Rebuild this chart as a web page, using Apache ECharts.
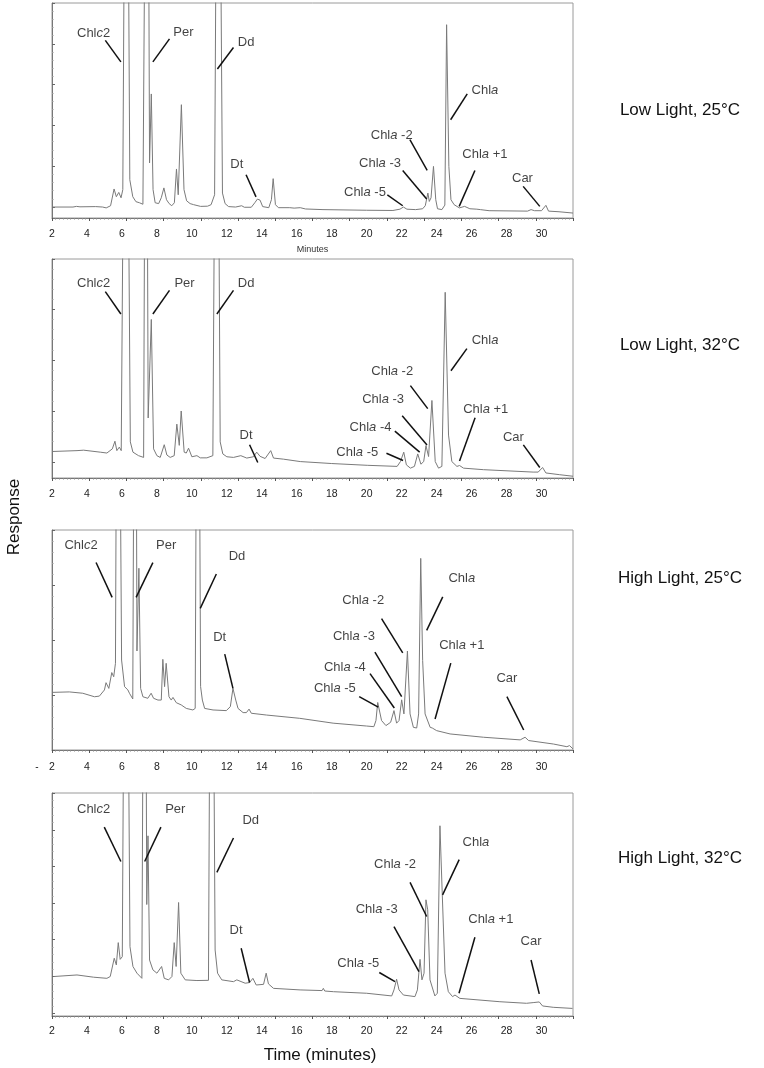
<!DOCTYPE html>
<html>
<head>
<meta charset="utf-8">
<title>Pigment chromatograms</title>
<script src="https://cdn.jsdelivr.net/npm/echarts@6/dist/echarts.min.js"></script>
<style>
  html, body { margin: 0; padding: 0; background: #fff; }
  #chart { width: 764px; height: 1068px; }
</style>
</head>
<body>
<div id="chart"></div>
<script>
// panel titles (right side)
const panelTitles = ['Low Light, 25°C', 'Low Light, 32°C', 'High Light, 25°C', 'High Light, 32°C']

// chromatograms: [time (min), response (% of panel height)], off-scale peaks go above 100
const trace1 = [[2.0,5.1],[3.2,5.1],[3.4,5.4],[3.6,5.2],[4.5,5.3],[4.9,5.1],[5.1,4.7],[5.35,5.7],[5.55,13.5],[5.68,9.9],[5.82,11.9],[5.95,9.4],[6.05,13.2],[6.25,300],[6.45,17.8],[6.62,9.9],[6.8,7.6],[7.0,7.1],[7.2,6.4],[7.28,7.1],[7.45,300],[7.58,25.6],[7.68,57.7],[7.78,13.2],[7.9,7.1],[8.1,6.7],[8.25,9.4],[8.4,14.0],[8.55,8.5],[8.7,6.7],[8.85,5.7],[9.0,7.1],[9.12,22.8],[9.22,10.8],[9.4,52.7],[9.55,13.2],[9.7,8.0],[9.9,6.7],[10.1,6.2],[10.5,5.4],[10.9,5.5],[11.1,6.2],[11.3,10.8],[11.5,300],[11.75,11.6],[11.9,6.7],[12.1,5.3],[12.5,5.1],[12.85,5.7],[13.0,5.0],[13.4,5.0],[13.6,7.1],[13.75,8.8],[13.9,8.3],[14.05,5.3],[14.4,4.8],[14.55,8.5],[14.65,18.3],[14.78,6.2],[14.95,4.8],[15.6,4.8],[15.7,5.3],[15.85,4.6],[16.2,4.8],[16.3,5.1],[16.5,4.2],[17.5,3.9],[20.0,3.6],[21.5,3.5],[21.9,4.1],[22.1,5.1],[22.3,4.1],[22.8,3.9],[23.2,4.3],[23.35,5.7],[23.5,11.6],[23.58,7.7],[23.68,9.4],[23.82,24.0],[23.95,8.5],[24.05,4.3],[24.3,3.9],[24.47,6.0],[24.57,89.9],[24.7,24.0],[24.82,8.5],[25.0,6.2],[25.3,4.7],[25.6,5.4],[25.9,4.3],[26.3,4.1],[26.5,3.9],[27.0,3.4],[29.2,3.2],[29.4,3.9],[29.6,3.4],[30.0,3.4],[30.25,5.9],[30.4,3.2],[31.0,2.9],[31.8,2.3]]
const trace2 = [[2.0,12.1],[3.43,12.5],[3.81,12.7],[4.76,11.8],[5.14,11.4],[5.45,13.3],[5.6,16.8],[5.71,12.5],[5.85,14.1],[5.96,12.5],[6.22,300],[6.48,16.5],[6.63,11.8],[6.95,10.2],[7.24,9.4],[7.3,9.5],[7.38,300],[7.5,27.4],[7.68,72.4],[7.81,13.3],[8.0,10.2],[8.19,9.4],[8.42,15.2],[8.57,10.5],[8.76,9.4],[8.99,10.2],[9.14,24.6],[9.28,14.9],[9.39,30.6],[9.56,11.8],[9.68,11.4],[9.81,13.6],[10.0,9.7],[10.29,10.2],[10.48,9.2],[10.86,9.2],[11.2,10.2],[11.28,11.0],[11.42,300],[11.62,16.5],[11.77,11.0],[12.0,9.7],[12.38,9.4],[12.8,10.2],[13.14,9.1],[13.52,9.7],[13.71,11.8],[13.9,9.9],[14.19,8.9],[14.51,12.5],[14.67,9.1],[15.24,8.6],[16.2,7.5],[18.0,6.6],[20.03,5.8],[21.74,5.3],[21.93,7.5],[22.12,11.8],[22.27,6.0],[22.5,4.5],[22.73,5.3],[22.92,11.0],[23.1,6.3],[23.26,7.5],[23.39,14.8],[23.54,9.8],[23.73,35.4],[23.92,7.5],[24.11,4.5],[24.3,5.3],[24.49,84.8],[24.68,19.6],[24.87,7.5],[25.16,5.3],[25.31,5.7],[25.54,4.5],[26.68,3.8],[29.52,2.7],[29.81,2.7],[30.06,4.8],[30.25,2.3],[31.04,1.5],[31.8,0.8]]
const trace3 = [[2.04,26.2],[2.99,26.4],[3.76,25.8],[4.43,24.2],[4.71,24.5],[5.0,27.3],[5.09,30.6],[5.25,28.0],[5.42,35.2],[5.53,33.3],[5.63,39.4],[5.76,300],[5.98,40.9],[6.15,28.8],[6.34,27.3],[6.43,25.8],[6.62,23.2],[6.66,23.5],[6.76,300],[6.86,45.0],[6.97,82.6],[7.07,28.0],[7.2,24.2],[7.48,23.5],[7.67,25.8],[7.81,23.5],[8.06,22.7],[8.25,22.7],[8.34,41.2],[8.44,28.8],[8.53,39.4],[8.69,24.2],[8.82,22.7],[8.92,23.9],[9.11,21.5],[9.39,20.5],[9.68,18.9],[10.06,18.2],[10.19,18.9],[10.34,300],[10.5,28.8],[10.6,22.7],[10.73,18.9],[11.21,18.2],[11.97,17.9],[12.2,19.7],[12.35,28.0],[12.51,22.7],[12.64,18.9],[12.93,17.0],[13.12,17.0],[13.27,18.6],[13.4,16.7],[14.26,15.9],[16.17,14.4],[18.08,12.2],[19.99,10.9],[20.41,10.6],[20.53,13.4],[20.63,21.6],[20.72,21.3],[20.85,13.4],[21.1,11.1],[21.37,12.6],[21.56,17.9],[21.71,12.2],[21.85,13.4],[22.0,22.8],[22.13,16.4],[22.33,45.0],[22.48,16.4],[22.67,10.3],[22.86,10.0],[22.97,16.4],[23.09,87.1],[23.2,40.7],[23.34,16.4],[23.63,10.3],[23.75,10.0],[23.86,10.6],[24.0,8.8],[24.77,7.3],[26.68,5.8],[28.78,4.6],[29.06,5.8],[29.26,4.3],[30.69,2.7],[31.45,1.5],[31.6,2.0],[31.8,0.5]]
const trace4 = [[2.1,17.7],[3.43,18.4],[4.38,17.4],[5.14,16.9],[5.33,17.7],[5.56,25.9],[5.68,22.9],[5.79,32.9],[5.9,25.4],[6.02,26.6],[6.22,300],[6.46,31.1],[6.63,22.2],[6.86,19.2],[7.14,16.9],[7.2,17.0],[7.3,300],[7.42,50.0],[7.49,80.8],[7.58,25.1],[7.77,20.7],[8.0,19.2],[8.27,22.2],[8.42,16.9],[8.67,16.2],[8.86,17.7],[8.99,32.9],[9.1,22.2],[9.24,50.9],[9.37,19.2],[9.62,16.2],[10.29,15.9],[10.95,16.0],[11.12,300],[11.33,29.6],[11.47,19.2],[11.71,16.2],[12.38,15.4],[12.57,16.2],[13.05,14.7],[13.3,15.0],[13.49,16.9],[13.68,13.9],[14.1,14.2],[14.25,19.2],[14.38,14.4],[14.67,12.4],[16.19,11.7],[17.45,11.4],[17.52,12.4],[17.6,11.2],[18.1,10.9],[20.0,10.2],[21.43,9.0],[21.56,11.7],[21.71,16.5],[21.85,11.7],[22.1,9.4],[22.76,8.7],[22.9,11.7],[23.05,25.4],[23.16,16.2],[23.28,19.2],[23.39,52.1],[23.49,47.6],[23.62,16.2],[23.9,9.0],[24.04,10.2],[24.19,85.3],[24.32,55.1],[24.48,19.2],[24.67,10.9],[24.91,8.7],[25.05,9.4],[25.33,7.9],[27.62,6.4],[29.14,5.7],[29.52,6.0],[29.87,6.3],[30.06,4.5],[30.67,3.9],[31.77,3.4]]

// peak names: [name, time, response]
const labels1 = [['Chlc2',4.38,86.0],['Per',9.52,86.3],['Dd',13.1,81.7],['Dt',12.57,24.8],['Chla -5',19.9,12.1],['Chla -3',20.76,25.6],['Chla -2',21.43,38.3],['Chla',26.76,59.2],['Chla +1',26.76,29.4],['Car',28.91,18.6]]
const labels2 = [['Chlc2',4.38,88.9],['Per',9.58,88.9],['Dd',13.1,88.9],['Dt',13.1,19.6],['Chla',26.77,62.9],['Chla -2',21.46,48.6],['Chla -3',20.94,35.9],['Chla -4',20.22,23.1],['Chla -5',19.46,11.8],['Chla +1',26.81,31.4],['Car',28.39,18.4]]
const labels3 = [['Chlc2',3.66,92.9],['Per',8.53,92.9],['Dd',12.58,87.9],['Dt',11.59,51.2],['Chla -2',19.8,68.1],['Chla -3',19.27,51.7],['Chla -4',18.75,37.7],['Chla -5',18.18,27.8],['Chla',25.44,78.0],['Chla +1',25.44,47.6],['Car',28.02,32.4]]
const labels4 = [['Chlc2',4.38,92.5],['Per',9.05,92.5],['Dd',13.37,87.7],['Dt',12.53,38.3],['Chla',26.25,77.8],['Chla -2',21.62,67.8],['Chla -3',20.57,47.9],['Chla -5',19.52,23.4],['Chla +1',27.1,43.1],['Car',29.4,33.4]]

// leader lines: [t1, r1, t2, r2]
const leaders1 = [[5.05,82.6,5.94,72.6],[8.72,83.3,7.77,72.6],[12.38,79.3,11.46,69.3],[13.1,20.1,13.67,9.8],[21.18,10.8,22.06,5.7],[22.06,22.1,23.43,8.8],[22.47,36.4,23.46,22.1],[25.75,57.7,24.8,45.7],[26.19,22.1,25.29,5.4],[28.95,14.7,29.9,5.4]]
const leaders2 = [[5.05,85.1,5.94,74.9],[8.72,85.7,7.77,74.9],[12.38,85.7,11.43,74.9],[13.3,15.2,13.77,7.1],[25.73,59.1,24.82,49.0],[22.5,42.2,23.49,31.7],[22.03,28.4,23.45,15.1],[21.61,21.4,23.03,11.8],[21.13,11.3,22.08,8.0],[26.2,27.5,25.31,7.8],[28.96,15.1,29.9,4.8]]
const leaders3 = [[4.52,85.2,5.44,69.4],[7.77,85.2,6.81,69.4],[11.4,80.0,10.48,64.4],[11.88,43.6,12.35,28.0],[20.85,59.7,22.06,44.1],[20.47,44.5,22.0,24.3],[20.19,34.7,21.58,19.1],[19.57,24.3,20.66,19.5],[24.35,69.6,23.43,54.4],[24.81,39.5,23.91,14.1],[28.02,24.3,28.98,9.1]]
const leaders4 = [[4.99,84.7,5.94,69.3],[8.23,84.7,7.3,69.3],[12.38,79.8,11.43,64.4],[12.82,30.4,13.3,15.0],[25.29,70.1,24.34,54.3],[22.48,59.9,23.43,44.6],[21.56,40.1,22.99,19.9],[20.72,19.5,21.62,15.4],[26.19,35.3,25.28,10.2],[29.4,25.1,29.87,9.9]]

// major tick marks on the response axis
const yTicks1 = [5.1, 24.1, 43.1, 62.0, 81.0, 100]
const yTicks2 = [7.4, 30.6, 53.9, 77.0, 100]
const yTicks3 = [0, 25, 50, 75, 100]
const yTicks4 = [1.2, 17.7, 34.2, 50.6, 67.1, 83.5, 100]

const FONT = '"Liberation Sans", Arial, sans-serif'

const panels = [
  { trace: trace1, labels: labels1, leaders: leaders1, yTicks: yTicks1, top: 3, height: 215, gap: 11 },
  { trace: trace2, labels: labels2, leaders: leaders2, yTicks: yTicks2, top: 259, height: 219, gap: 11 },
  { trace: trace3, labels: labels3, leaders: leaders3, yTicks: yTicks3, top: 530, height: 220, gap: 12 },
  { trace: trace4, labels: labels4, leaders: leaders4, yTicks: yTicks4, top: 793, height: 223, gap: 10 }
]
const titleY = [110, 345, 578, 858]

// minor ticks: 5 steps between majors
const minorOf = (ticks) => {
  const out = []
  for (let i = 0; i < ticks.length - 1; i++) {
    const step = (ticks[i + 1] - ticks[i]) / 5
    for (let k = 1; k < 5; k++) out.push(ticks[i] + k * step)
  }
  return out
}

// Chla / Chlc2 -> italic a / c
const labelText = (name) => name.replace(/^Chl([ac])(.*)$/, '{n|Chl}{i|$1}{n|$2}').replace(/^(Per|Dd|Dt|Car)$/, '{n|$1}')

const grid = [], xAxis = [], yAxis = [], series = []

panels.forEach((p, i) => {
  grid.push({
    left: 52, width: 521, top: p.top, height: p.height,
    show: true, borderColor: '#9a9a9a', borderWidth: 1, backgroundColor: 'transparent',
    containLabel: false, outerBoundsMode: 'none'
  })
  // time axis with the printed labels (data axis)
  const xa = {
    gridIndex: i, type: 'value', position: 'bottom', min: 2, max: 31.8, interval: 2,
    axisLine: { show: false, onZero: false }, axisTick: { show: false }, splitLine: { show: false },
    axisLabel: {
      margin: p.gap, fontSize: 10.5, color: '#222', fontFamily: FONT,
      formatter: v => (Math.abs(v % 2) < 1e-6 ? String(v) : '')
    }
  }
  if (i === 0) {
    Object.assign(xa, { name: 'Minutes', nameLocation: 'middle', nameGap: 27,
      nameTextStyle: { fontSize: 9, color: '#333', fontFamily: FONT } })
  }
  if (i === 3) {
    Object.assign(xa, { name: 'Time (minutes)', nameLocation: 'middle', nameGap: 31,
      nameTextStyle: { fontSize: 17, color: '#111', fontFamily: FONT, padding: [0, 0, 0, 15] } })
  }
  xAxis.push(xa)
  // tick marks along the time axis
  xAxis.push({
    gridIndex: i, type: 'value', position: 'bottom', min: 2, max: 30, interval: 2,
    axisLine: { show: true, onZero: false, lineStyle: { color: '#777', width: 1 } },
    axisTick: { show: true, length: 3, lineStyle: { color: '#555', width: 1 } },
    minorTick: { show: true, splitNumber: 10, length: 1.5, lineStyle: { color: '#888', width: 1 } },
    axisLabel: { show: false }, splitLine: { show: false }, minorSplitLine: { show: false }
  })
  yAxis.push({
    gridIndex: i, type: 'value', position: 'left', min: 0, max: 100,
    axisLine: { show: true, onZero: false, lineStyle: { color: '#777', width: 1 } },
    axisTick: { show: true, inside: true, length: 3, customValues: p.yTicks, lineStyle: { color: '#666' } },
    axisLabel: { show: false }, splitLine: { show: false }
  })
  yAxis.push({
    gridIndex: i, type: 'value', position: 'left', min: 0, max: 100,
    axisLine: { show: false, onZero: false },
    axisTick: { show: true, inside: true, length: 1.5, customValues: minorOf(p.yTicks), lineStyle: { color: '#999' } },
    axisLabel: { show: false }, splitLine: { show: false }
  })

  series.push({
    type: 'line', xAxisIndex: 2 * i, yAxisIndex: 2 * i, data: p.trace,
    symbol: 'none', clip: true, silent: true,
    lineStyle: { color: '#7a7a7a', width: 1 },
    markLine: {
      silent: true, symbol: ['none', 'none'], label: { show: false },
      lineStyle: { color: '#111', width: 1.5, type: 'solid' },
      emphasis: { disabled: true },
      data: p.leaders.map(d => [{ coord: [d[0], d[1]] }, { coord: [d[2], d[3]] }])
    }
  })
  series.push({
    type: 'scatter', xAxisIndex: 2 * i, yAxisIndex: 2 * i, silent: true,
    data: p.labels.map(l => ({ value: [l[1], l[2]], name: l[0] })),
    symbolSize: 1, itemStyle: { color: 'transparent' },
    label: {
      show: true, position: 'inside',
      formatter: prm => labelText(prm.name),
      rich: {
        n: { fontSize: 13, color: '#111', fontFamily: FONT },
        i: { fontSize: 13, color: '#111', fontFamily: FONT, fontStyle: 'italic' }
      }
    }
  })
})

const graphic = panelTitles.map((t, i) => ({
  type: 'text', x: 680, y: titleY[i],
  style: { text: t, fill: '#111', font: '17px ' + FONT, textAlign: 'center', textVerticalAlign: 'middle' }
}))
graphic.push({
  type: 'text', x: 14, y: 517, rotation: Math.PI / 2,
  style: { text: 'Response', fill: '#111', font: '17px ' + FONT, textAlign: 'center', textVerticalAlign: 'middle' }
})
graphic.push({
  type: 'text', x: 37, y: 767,
  style: { text: '-', fill: '#222', font: '10px ' + FONT, textAlign: 'center', textVerticalAlign: 'middle' }
})

const chart = echarts.init(document.getElementById('chart'), null, { renderer: 'canvas' })
chart.setOption({
  animation: false,
  backgroundColor: '#fff',
  grid, xAxis, yAxis, series, graphic
})
</script>
</body>
</html>
